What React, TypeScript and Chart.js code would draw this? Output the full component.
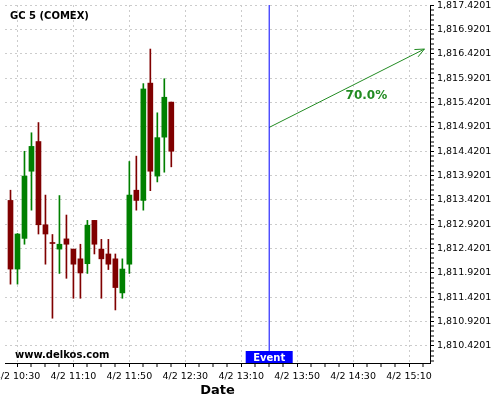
import React, { useEffect, useRef } from "react";
import { Chart, registerables } from "chart.js";

Chart.register(...registerables);

// ---- data ----
const chartTitle = "GC 5 (COMEX)";
const watermark = "www.delkos.com";
const axisTitle = "Date";
const datePrefix = "4/2";

const candleTimes = [
  "10:25", "10:30", "10:35", "10:40", "10:45", "10:50", "10:55", "11:00",
  "11:05", "11:10", "11:15", "11:20", "11:25", "11:30", "11:35", "11:40",
  "11:45", "11:50", "11:55", "12:00", "12:05", "12:10", "12:15", "12:20",
];
const opens = [
  1813.41, 1812.0, 1812.63, 1814.01, 1814.62, 1812.91, 1812.54, 1812.41,
  1812.62, 1812.41, 1812.21, 1812.11, 1813.0, 1812.41, 1812.31, 1812.21,
  1811.51, 1812.1, 1813.62, 1813.41, 1815.82, 1813.91, 1814.71, 1815.43,
];
const highs = [
  1813.62, 1812.73, 1814.42, 1814.8, 1815.01, 1813.52, 1812.71, 1813.51,
  1813.11, 1812.41, 1812.51, 1813.0, 1813.0, 1812.61, 1812.61, 1812.31,
  1812.21, 1814.21, 1814.32, 1815.81, 1816.52, 1815.21, 1815.91, 1815.43,
];
const lows = [
  1811.69, 1811.69, 1812.51, 1813.21, 1812.72, 1812.1, 1810.99, 1811.91,
  1811.81, 1811.4, 1811.4, 1811.91, 1812.31, 1811.4, 1811.99, 1811.16,
  1811.4, 1811.91, 1813.21, 1813.21, 1813.61, 1813.79, 1813.99, 1814.1,
];
const closes = [
  1812.0, 1812.72, 1813.91, 1814.52, 1812.91, 1812.72, 1812.525, 1812.51,
  1812.51, 1812.1, 1811.92, 1812.9, 1812.51, 1812.21, 1812.1, 1811.62,
  1812.0, 1813.52, 1813.41, 1815.7, 1814.01, 1814.7, 1815.53, 1814.42,
];

const xTickTimes = [
  "10:30", "10:40", "10:50", "11:00", "11:10", "11:20", "11:30", "11:40",
  "11:50", "12:00", "12:10", "12:20", "12:30", "12:40", "12:50", "13:00",
  "13:10", "13:20", "13:30", "13:40", "13:50", "14:00", "14:10", "14:20",
  "14:30", "14:40", "14:50", "15:00", "15:10", "15:20",
];
const xLabeledTimes = ["10:30", "11:10", "11:50", "12:30", "13:10", "13:50", "14:30", "15:10"];

const yMajorTicks = [
  1810.4201, 1810.9201, 1811.4201, 1811.9201, 1812.4201, 1812.9201, 1813.4201,
  1813.9201, 1814.4201, 1814.9201, 1815.4201, 1815.9201, 1816.4201, 1816.9201,
  1817.4201,
];
const yMinorPerMajor = 5;

const eventTime = "13:30";
const eventLabel = "Event";
const arrowTimes = ["13:30", "15:21"];
const arrowPrices = [1814.91, 1816.52];
const probabilityLabel = "70.0%";

const xRange = ["10:21.0714", "15:25"];
const yRange = [1810.07, 1817.425];

// ---- helpers ----
const toMin = (s: string) => {
  const [h, m] = s.split(":");
  return Number(h) * 60 + Number(m);
};
const fmtTime = (v: number) => {
  const h = Math.floor(v / 60);
  const m = Math.round(v - h * 60);
  return `${h}:${m < 10 ? "0" + m : m}`;
};
const labeledSet = new Set(xLabeledTimes.map(toMin));
const isMajorX = (v: number) => labeledSet.has(Math.round(v));
const yMajorStep = yMajorTicks[1] - yMajorTicks[0];
const isMajorY = (v: number) => {
  const r = (v - yMajorTicks[0]) / yMajorStep;
  return Math.abs(r - Math.round(r)) < 1e-4;
};
const fmtPrice = (v: number) =>
  v.toLocaleString("en-US", { minimumFractionDigits: 4, maximumFractionDigits: 4 });

const GREEN = "#008000";
const RED = "#800000";
const ARROW = "#228b22";
const GRID = "#cccccc";
const FONT = "'DejaVu Sans', sans-serif";

export default function App() {
  const ref = useRef<HTMLCanvasElement | null>(null);

  useEffect(() => {
    if (!ref.current) return;
    const xs = candleTimes.map(toMin);
    const colors = opens.map((o, i) => (closes[i] >= o ? GREEN : RED));

    const overlay = {
      id: "overlay",
      afterDatasetsDraw(chart: any) {
        const ctx = chart.ctx as CanvasRenderingContext2D;
        const meta = chart.getDatasetMeta(2);
        const p0 = meta.data[0];
        const p1 = meta.data[1];
        if (!p0 || !p1) return;
        const ang = Math.atan2(p1.y - p0.y, p1.x - p0.x);
        const len = 10;
        const spread = (24 * Math.PI) / 180;
        ctx.save();
        ctx.strokeStyle = ARROW;
        ctx.lineWidth = 1;
        ctx.beginPath();
        ctx.moveTo(p1.x - len * Math.cos(ang - spread), p1.y - len * Math.sin(ang - spread));
        ctx.lineTo(p1.x, p1.y);
        ctx.lineTo(p1.x - len * Math.cos(ang + spread), p1.y - len * Math.sin(ang + spread));
        ctx.stroke();
        const f = 0.626;
        const lx = p0.x + (p1.x - p0.x) * f;
        const ly = p0.y + (p1.y - p0.y) * f + 18;
        ctx.fillStyle = ARROW;
        ctx.font = `bold 12px ${FONT}`;
        ctx.textAlign = "center";
        ctx.textBaseline = "middle";
        ctx.fillText(probabilityLabel, lx, ly);
        ctx.restore();
      },
      afterDraw(chart: any) {
        const ctx = chart.ctx as CanvasRenderingContext2D;
        const area = chart.chartArea;
        const xScale = chart.scales.x;
        ctx.save();
        // title
        ctx.fillStyle = "#000";
        ctx.font = `bold 10px ${FONT}`;
        ctx.textAlign = "left";
        ctx.textBaseline = "alphabetic";
        ctx.fillText(chartTitle, area.left + 5, 19);
        // watermark
        ctx.fillText(watermark, area.left + 10, area.bottom - 5);
        // event line + label
        const ex = xScale.getPixelForValue(toMin(eventTime));
        const boxH = 12;
        const boxW = 47;
        ctx.strokeStyle = "#0000ff";
        ctx.lineWidth = 1;
        ctx.beginPath();
        ctx.moveTo(ex, area.top);
        ctx.lineTo(ex, area.bottom - boxH);
        ctx.stroke();
        ctx.fillStyle = "#0000ff";
        ctx.fillRect(ex - boxW / 2, area.bottom - boxH, boxW, boxH);
        ctx.fillStyle = "#ffffff";
        ctx.font = `bold 10px ${FONT}`;
        ctx.textAlign = "center";
        ctx.fillText(eventLabel, ex, area.bottom - 2.3);
        ctx.restore();
      },
    };

    const chart = new Chart(ref.current, {
      type: "bar",
      data: {
        datasets: [
          {
            type: "bar",
            data: xs.map((x, i) => ({ x, y: [lows[i], highs[i]] })) as any,
            backgroundColor: colors,
            borderWidth: 0,
            grouped: false,
            barThickness: 1,
            maxBarThickness: 1,
          } as any,
          {
            type: "bar",
            data: xs.map((x, i) => ({ x, y: [opens[i], closes[i]] })) as any,
            backgroundColor: colors,
            borderWidth: 0,
            grouped: false,
            barThickness: 5,
            maxBarThickness: 5,
            minBarLength: 1,
          } as any,
          {
            type: "line",
            data: arrowTimes.map((t, i) => ({ x: toMin(t), y: arrowPrices[i] })) as any,
            borderColor: ARROW,
            borderWidth: 1,
            pointRadius: 0,
            fill: false,
          } as any,
        ],
      },
      options: {
        animation: false,
        responsive: false,
        events: [],
        layout: { padding: { top: 5, left: 5, right: 0, bottom: 0 } },
        plugins: { legend: { display: false }, tooltip: { enabled: false }, title: { display: false } },
        scales: {
          x: {
            type: "linear",
            offset: false,
            min: toMin(xRange[0]),
            max: toMin(xRange[1]),
            afterBuildTicks: (scale: any) => {
              scale.ticks = xTickTimes.map((t) => ({ value: toMin(t) }));
            },
            afterFit: (scale: any) => {
              scale.height = 37;
              scale.paddingLeft = 0;
              scale.paddingRight = 0;
            },
            ticks: {
              autoSkip: false,
              maxRotation: 0,
              minRotation: 0,
              padding: 4,
              color: "#000",
              font: { family: FONT, size: 9.5 },
              callback: (v: any) => (isMajorX(Number(v)) ? `${datePrefix} ${fmtTime(Number(v))}` : ""),
            },
            grid: {
              offset: false,
              color: GRID,
              lineWidth: (c: any) => (c.tick && isMajorX(c.tick.value) ? 1 : 0),
              drawTicks: true,
              tickLength: 4,
              tickColor: "#000",
              tickWidth: 1,
            },
            border: { display: true, color: "#000", width: 1, dash: [2, 3] },
            title: {
              display: true,
              text: axisTitle,
              color: "#000",
              font: { family: FONT, size: 13, weight: "bold" },
              padding: { top: 0, bottom: 2 },
            },
          },
          y: {
            type: "linear",
            position: "right",
            min: yRange[0],
            max: yRange[1],
            afterBuildTicks: (scale: any) => {
              const ticks: any[] = [];
              const base = yMajorTicks[0];
              const minorStep = yMajorStep / yMinorPerMajor;
              const lastK = (yMajorTicks.length - 1) * yMinorPerMajor;
              for (let k = -yMinorPerMajor; k <= lastK; k++) {
                const v = base + k * minorStep;
                if (v >= yRange[0] && v <= yRange[1]) ticks.push({ value: v });
              }
              scale.ticks = ticks;
            },
            afterFit: (scale: any) => {
              scale.width = 70;
              scale.paddingTop = 0;
              scale.paddingBottom = 0;
            },
            ticks: {
              autoSkip: false,
              padding: 3,
              color: "#000",
              font: { family: FONT, size: 9.5 },
              callback: (v: any) => (isMajorY(Number(v)) ? fmtPrice(Number(v)) : ""),
            },
            grid: {
              color: GRID,
              lineWidth: (c: any) => (c.tick && isMajorY(c.tick.value) ? 1 : 0),
              drawTicks: true,
              tickLength: 4,
              tickColor: "#000",
              tickWidth: 1,
            },
            border: { display: true, color: "#000", width: 1, dash: [2, 3] },
          },
        },
      } as any,
      plugins: [overlay],
    });

    return () => chart.destroy();
  }, []);

  return (
    <div style={{ position: "fixed", left: 0, top: 0, width: 500, height: 400, background: "#fff" }}>
      <canvas ref={ref} width={500} height={400} style={{ display: "block" }} />
    </div>
  );
}
